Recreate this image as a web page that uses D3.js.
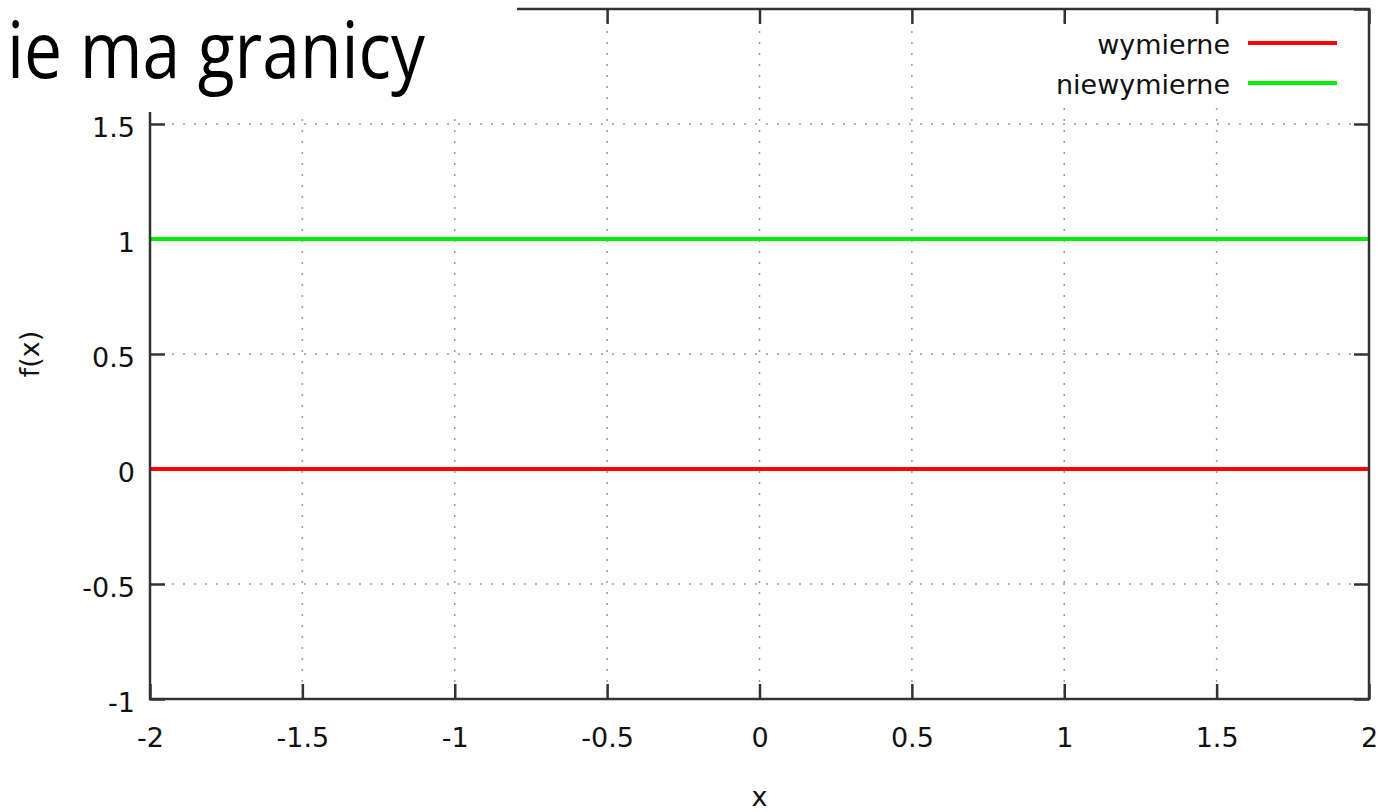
<!DOCTYPE html>
<html>
<head>
<meta charset="utf-8">
<script src="https://cdn.jsdelivr.net/npm/d3@7"></script>
<style>
  body { margin: 0; background: #fff; }
  svg { display: block; }
  .tick text { font-family: "DejaVu Sans", sans-serif; font-size: 27px; fill: #111; }
</style>
</head>
<body>
<div class="visHolder"></div>
<script>
const w = 1394;
const h = 812;

// data
const xTicks = [-2, -1.5, -1, -0.5, 0, 0.5, 1, 1.5, 2];
const yTicks = [-1, -0.5, 0, 0.5, 1, 1.5, 2];
const seriesNames = ['wymierne', 'niewymierne'];
const seriesColors = ['#ff0000', '#00ee00'];
const xPoints = [-2, 2];
const seriesValues = [[0, 0], [1, 1]];

const plotLeft = 150, plotRight = 1369, plotTop = 9, plotBottom = 699;

const svg = d3.select('.visHolder')
  .append('svg')
  .attr('width', w)
  .attr('height', h);

const xScale = d3.scaleLinear().domain([-2, 2]).range([plotLeft, plotRight]);
const yScale = d3.scaleLinear().domain([-1, 2]).range([plotBottom, plotTop]);

// grid
const grid = svg.append('g')
  .attr('stroke', '#999')
  .attr('stroke-width', 1.5)
  .attr('stroke-dasharray', '2,9');
grid.selectAll('line.gx')
  .data(xTicks.slice(1, -1))
  .enter()
  .append('line')
  .attr('x1', d => xScale(d)).attr('x2', d => xScale(d))
  .attr('y1', plotTop).attr('y2', plotBottom);
grid.selectAll('line.gy')
  .data(yTicks.slice(1, -1))
  .enter()
  .append('line')
  .attr('y1', d => yScale(d)).attr('y2', d => yScale(d))
  .attr('x1', plotLeft).attr('x2', plotRight);

// axes (ticks pointing inward); the label of 2 sits under the title box
const fmt = d => String(d);

svg.append('g')
  .attr('transform', 'translate(' + plotLeft + ',0)')
  .call(d3.axisLeft(yScale).tickValues(yTicks).tickSize(-15).tickPadding(15)
    .tickFormat(d => d === 2 ? '' : fmt(d)))
  .call(g => g.select('.domain').remove())
  .call(g => g.selectAll('.tick text').attr('dy', '0.45em'));

svg.append('g')
  .attr('transform', 'translate(' + plotRight + ',0)')
  .call(d3.axisRight(yScale).tickValues(yTicks).tickSize(-15).tickFormat(''))
  .call(g => g.select('.domain').remove());

svg.append('g')
  .attr('transform', 'translate(0,' + plotBottom + ')')
  .call(d3.axisBottom(xScale).tickValues(xTicks).tickSize(-15).tickPadding(29).tickFormat(fmt))
  .call(g => g.select('.domain').remove());

svg.append('g')
  .attr('transform', 'translate(0,' + plotTop + ')')
  .call(d3.axisTop(xScale).tickValues(xTicks).tickSize(-15).tickFormat(''))
  .call(g => g.select('.domain').remove());

svg.selectAll('.tick line').attr('stroke', '#333').attr('stroke-width', 2.5);

// series lines
const line = d3.line()
  .x((d, i) => xScale(xPoints[i]))
  .y(d => yScale(d));

svg.selectAll('path.series')
  .data(seriesValues)
  .enter()
  .append('path')
  .attr('class', 'series')
  .attr('d', d => line(d))
  .attr('fill', 'none')
  .attr('stroke', (d, i) => seriesColors[i])
  .attr('stroke-width', 4);

// border
svg.append('rect')
  .attr('x', plotLeft).attr('y', plotTop)
  .attr('width', plotRight - plotLeft).attr('height', plotBottom - plotTop)
  .attr('fill', 'none')
  .attr('stroke', '#333')
  .attr('stroke-width', 2.5);

// axis labels
svg.append('text')
  .attr('x', (plotLeft + plotRight) / 2)
  .attr('y', 806)
  .attr('text-anchor', 'middle')
  .style('font-family', '"DejaVu Sans", sans-serif')
  .style('font-size', '27px')
  .attr('fill', '#111')
  .text('x');

svg.append('text')
  .attr('transform', 'translate(30,' + (plotTop + plotBottom) / 2 + ') rotate(-90)')
  .attr('text-anchor', 'middle')
  .attr('dy', '0.35em')
  .style('font-family', '"DejaVu Sans", sans-serif')
  .style('font-size', '27px')
  .attr('fill', '#111')
  .text('f(x)');

// legend
svg.append('rect')
  .attr('x', 1040).attr('y', 26)
  .attr('width', plotRight - 1042).attr('height', 80)
  .attr('fill', '#fff');

const legend = svg.selectAll('g.legend')
  .data(seriesNames)
  .enter()
  .append('g')
  .attr('class', 'legend')
  .attr('transform', (d, i) => 'translate(0,' + (43 + i * 40) + ')');

legend.append('text')
  .attr('x', 1230)
  .attr('y', 0)
  .attr('dy', '0.4em')
  .attr('text-anchor', 'end')
  .style('font-family', '"DejaVu Sans", sans-serif')
  .style('font-size', '27px')
  .attr('fill', '#111')
  .text(d => d);

legend.append('line')
  .attr('x1', 1248).attr('x2', 1337)
  .attr('y1', 0).attr('y2', 0)
  .attr('stroke', (d, i) => seriesColors[i])
  .attr('stroke-width', 4);

// slide title covering the top-left corner
svg.append('rect')
  .attr('x', 0).attr('y', 0)
  .attr('width', 517).attr('height', 112)
  .attr('fill', '#fff');

svg.append('text')
  .attr('x', 7)
  .attr('y', 78)
  .attr('textLength', 418)
  .attr('lengthAdjust', 'spacingAndGlyphs')
  .style('font-family', '"Open Sans", sans-serif')
  .style('font-size', '78px')
  .attr('fill', '#000')
  .text('ie ma granicy');
</script>
</body>
</html>
